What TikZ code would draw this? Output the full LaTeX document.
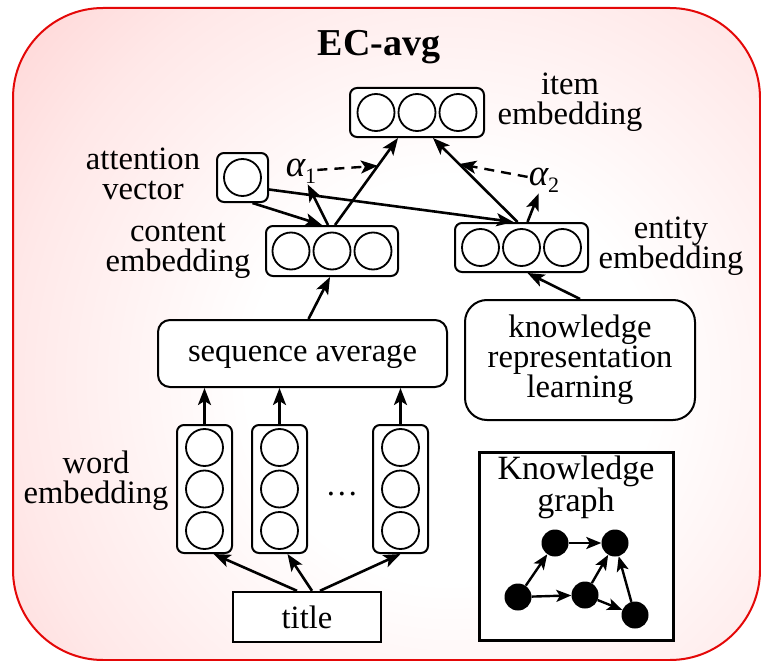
\documentclass[tikz,border=0pt]{standalone}
\usepackage{fontspec}
\setmainfont{Liberation Serif}
\usetikzlibrary{arrows.meta,calc}
\definecolor{bgpink}{RGB}{255,200,200}
\definecolor{bgmid}{RGB}{255,232,232}
\definecolor{bordred}{RGB}{228,8,8}
\pgfdeclareradialshading{bgshade}{\pgfpointorigin}{color(0bp)=(white); color(11bp)=(white); color(24bp)=(bgmid); color(37bp)=(bgpink); color(50bp)=(bgpink)}
\newcommand{\alphasub}[1]{{\fontsize{37}{37}\selectfont\itshape α}\raisebox{-7pt}{\fontsize{22}{22}\selectfont #1}}
\begin{document}
\begin{tikzpicture}[x=1pt,y=-1pt,
  font=\fontsize{32.6}{30}\selectfont,
  arrowtip/.tip={Stealth[length=17pt,width=13pt,inset=4pt]},
  vbox/.style={draw,line width=2pt,rounded corners=7pt,fill=white,inner sep=0pt},
  cell/.style={draw,circle,line width=1.8pt,minimum size=37pt,inner sep=0pt,fill=white},
  lbl/.style={align=center,inner sep=0pt},
  conn/.style={-arrowtip,line width=2.6pt},
  dconn/.style={-arrowtip,line width=2.4pt,dash pattern=on 10pt off 7pt},
  gnode/.style={circle,fill=black,minimum size=27pt,inner sep=0pt},
  gconn/.style={-{Stealth[length=15pt,width=12pt,inset=3.5pt]},line width=2.4pt}]
\useasboundingbox (0,0) rectangle (761,661);
% background
\begin{scope}
  \clip[rounded corners=90pt] (13,8) rectangle (760,660);
  \shade[shading=bgshade] (-10,-80) rectangle (910,840);
\end{scope}
\draw[bordred,line width=2pt,rounded corners=90pt] (13,8) rectangle (760,660);
\node[font=\fontsize{38}{38}\selectfont\bfseries,inner sep=0pt] (head) at (379,47) {EC-avg};

% item embedding
\node[vbox,minimum width=134pt,minimum height=49pt] (item) at (417,112.5) {};
\foreach \i in {1,2,3} \node[cell] (item-\i) at ($(item)+({(\i-2)*41},0)$) {};
\node[lbl] (itemlbl) at (570,102.5) {item\\embedding};

% attention vector
\node[vbox,minimum width=51pt,minimum height=49pt] (att) at (242.5,177.5) {};
\node[cell] (att-1) at (att) {};
\node[lbl] (attlbl) at (143,173.5) {attention\\vector};

% content embedding
\node[vbox,minimum width=132pt,minimum height=50pt] (content) at (332,251) {};
\foreach \i in {1,2,3} \node[cell] (content-\i) at ($(content)+({(\i-2)*41},0)$) {};
\node[lbl] (contentlbl) at (178,250.5) {content\\embedding};

% entity embedding
\node[vbox,minimum width=133pt,minimum height=49pt] (entity) at (521.5,247.5) {};
\foreach \i in {1,2,3} \node[cell] (entity-\i) at ($(entity)+({(\i-2)*41},0)$) {};
\node[lbl] (entitylbl) at (671,246.5) {entity\\embedding};

% sequence average
\node[vbox,rounded corners=12pt,minimum width=289pt,minimum height=67pt,text height=22pt,text depth=7pt] (seq) at (302.5,353.5) {sequence average};

% knowledge representation learning
\node[vbox,rounded corners=22pt,minimum width=230pt,minimum height=120pt,align=center] (krl) at (580,360) {knowledge\\representation\\learning};

% word embeddings
\foreach \n/\x in {1/204.5,2/279.5,3/400.5} {
  \node[vbox,minimum width=55pt,minimum height=128pt] (w\n) at (\x,489) {};
  \foreach \i in {1,2,3} \node[cell] (w\n-\i) at ($(w\n)+(0,{(\i-2)*41.5})$) {};
}
\node[inner sep=0pt] (dots) at (342,494) {\dots};
\node[lbl] (wordlbl) at (96,480.5) {word\\embedding};

% title
\node[draw,line width=2.4pt,fill=white,minimum width=148pt,minimum height=50pt,text height=22pt,text depth=0pt,inner sep=0pt] (title) at (307,617) {title};

% knowledge graph
\node[draw,line width=3pt,fill=white,minimum width=194pt,minimum height=188pt] (kg) at (576,546) {};
\node[lbl,font=\fontsize{34}{28}\selectfont,anchor=north] (kglbl) at (576,456) {Knowledge\\graph};
\node[gnode] (ga) at (555,543) {};
\node[gnode] (gb) at (615,543) {};
\node[gnode] (gc) at (518,597) {};
\node[gnode] (gd) at (585,595) {};
\node[gnode] (ge) at (635,615) {};
\draw[gconn] (ga) -- (gb);
\draw[gconn] (gc) -- (ga);
\draw[gconn] (gc) -- (gd);
\draw[gconn] (gd) -- (gb);
\draw[gconn] (gd) -- (ge);
\draw[gconn] (ge) -- (gb);

% alpha labels
\node[inner sep=1pt] (a1) at (301,171) {\alphasub{1}};
\node[inner sep=1pt] (a2) at (544,180) {\alphasub{2}};

% connectors
\draw[conn] ($(title.north)+(-10,0)$) -- ($(w1.south)+(9,0)$);
\draw[conn] ($(title.north)+(5,0)$) -- ($(w2.south)+(8,0)$);
\draw[conn] ($(title.north)+(13,0)$) -- (w3.south);
\foreach \n in {1,2,3} \draw[conn] (w\n.north) -- (w\n.north |- seq.south);
\draw[conn] ($(seq.north)+(6,0)$) -- ($(content.south)+(-2,0)$);
\draw[conn] (krl.north) -- ($(entity.south)+(6,0)$);
\draw[conn] ($(content.north)+(3,0)$) -- coordinate[pos=0.68] (m1) ($(item.south)+(-19,0)$);
\draw[conn] ($(entity.north)+(-4,0)$) -- coordinate[pos=0.69] (m2) ($(item.south)+(16,0)$);
\draw[conn] ($(content.north)+(-4,0)$) -- (a1);
\draw[conn] ($(entity.north)+(6,0)$) -- (a2);
\draw[conn] ($(att.south)+(10,0)$) -- ($(content.north)+(-10,0)$);
\draw[conn] ($(att.east)+(0,12)$) -- ($(entity.north)+(-8,0)$);
\draw[dconn] (a1) -- (m1);
\draw[dconn] (a2) -- (m2);
\end{tikzpicture}
\end{document}
